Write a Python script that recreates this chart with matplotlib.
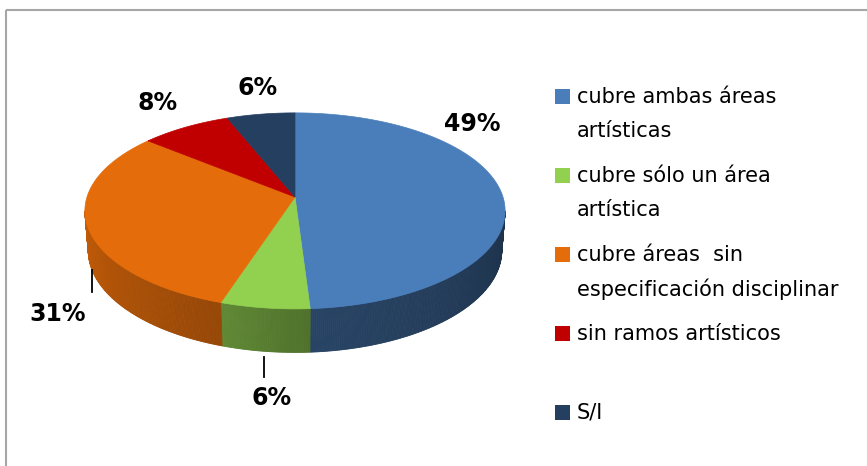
import numpy as np
from matplotlib import pyplot as plt
from matplotlib.patches import Polygon, Rectangle

# data
labels = ["cubre ambas áreas\nartísticas",
          "cubre sólo un área\nartística",
          "cubre áreas  sin\nespecificación disciplinar",
          "sin ramos artísticos",
          "S/I"]
shares = [49, 6, 31, 8, 6]
pct_text = ["49%", "6%", "31%", "8%", "6%"]
colors = ["#4A7EBB", "#92D050", "#E46C0A", "#C00000", "#243F60"]

# layout (pixels)
W, H = 867, 466
cx, cy = 295, 197          # where the slices meet
k = 1302.0                 # screen scale
elev = np.deg2rad(27.5)
dist = 6.26
depth_h = 0.216            # pie thickness
label_pos = [(472, 124), (272, 398), (58, 314), (158, 103), (258, 88)]


def project(theta, z=0.0):
    """perspective view of a point on the unit circle at height z"""
    x, y = np.cos(theta), np.sin(theta)
    s, c = np.sin(elev), np.cos(elev)
    d = y * c + dist - z * s
    sx = x / d
    sy = (y * s + z * c) / d
    return cx + k * sx, cy - k * sy


def shade(hexcol, f):
    rgb = np.array([int(hexcol[i:i + 2], 16) for i in (1, 3, 5)]) / 255.0
    return tuple(rgb * f)


fig = plt.figure(figsize=(W / 100, H / 100), dpi=100)
ax = fig.add_axes([0, 0, 1, 1])
ax.set_xlim(0, W)
ax.set_ylim(H, 0)
ax.axis("off")

# slice angles, clockwise from 12 o'clock
fr = np.array(shares, dtype=float) / sum(shares)
edges = np.pi / 2 - 2 * np.pi * np.concatenate([[0], np.cumsum(fr)])

# visible front wall range
sil = np.arcsin(np.cos(elev) / dist)
vis_lo, vis_hi = np.pi + sil, 2 * np.pi - sil

# darkening of the wall from left to right
sh_ang = np.deg2rad([188, 252, 274, 352])
sh_val = [0.86, 0.66, 0.54, 0.40]

# side walls
for i, col in enumerate(colors):
    a0, a1 = edges[i + 1], edges[i]  # a0 < a1
    for off in (0, 2 * np.pi, -2 * np.pi):
        lo = max(a0 + off, vis_lo)
        hi = min(a1 + off, vis_hi)
        if hi <= lo:
            continue
        ts = np.linspace(lo, hi, max(2, int((hi - lo) * 120)))
        for t0, t1 in zip(ts[:-1], ts[1:]):
            f = np.interp(0.5 * (t0 + t1), sh_ang, sh_val)
            fc = shade(col, f)
            pts = [project(t0), project(t1), project(t1, -depth_h), project(t0, -depth_h)]
            ax.add_patch(Polygon(pts, closed=True, facecolor=fc, edgecolor=fc, lw=0.6))

# top faces
for i, col in enumerate(colors):
    ts = np.linspace(edges[i], edges[i + 1], 200)
    pts = [(cx, cy)] + [project(t) for t in ts]
    ax.add_patch(Polygon(pts, closed=True, facecolor=col, edgecolor=col, lw=0.5))

# percentage labels
for txt, (lx, ly) in zip(pct_text, label_pos):
    ax.text(lx, ly, txt, ha="center", va="center", fontsize=17,
            fontweight="bold", color="black")

# leader lines
ax.plot([92, 92], [270, 292], color="black", lw=1.3)
ax.plot([264, 264], [357, 377], color="black", lw=1.3)

# legend
for i, (lab, col) in enumerate(zip(labels, colors)):
    y0 = 97 + i * 79
    ax.add_patch(Rectangle((555, y0 - 8), 15, 15, facecolor=col, edgecolor="none"))
    for j, line in enumerate(lab.split("\n")):
        ax.text(577, y0 + j * 34, line, ha="left", va="center", fontsize=15,
                color="black")

# chart border
ax.plot([6, W], [10, 10], color="#A6A6A6", lw=1.5, solid_capstyle="butt")
ax.plot([6, 6], [10, H], color="#A6A6A6", lw=1.5, solid_capstyle="butt")

fig.savefig("out.png", dpi=100)
